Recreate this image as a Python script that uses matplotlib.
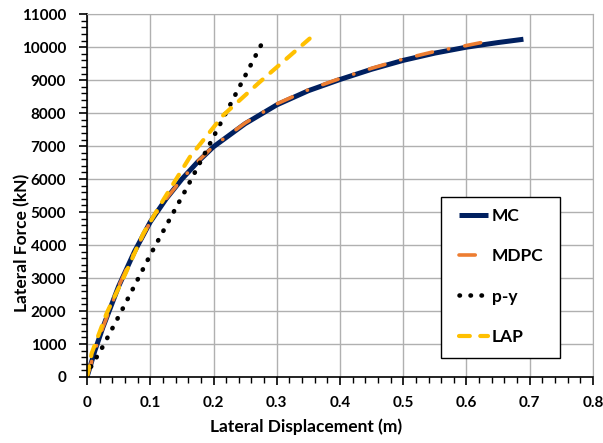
import matplotlib.pyplot as plt
from matplotlib.patches import Rectangle
from matplotlib.ticker import MultipleLocator, FuncFormatter

plt.rcParams['font.family'] = ['Lato', 'DejaVu Sans']
plt.rcParams['font.weight'] = 'bold'

# MC
mc_x = [0, 0.0125, 0.025, 0.05, 0.075, 0.1, 0.125, 0.15, 0.175, 0.2, 0.25, 0.3,
        0.35, 0.4, 0.45, 0.5, 0.55, 0.6, 0.65, 0.69]
mc_y = [0, 800, 1500, 2750, 3800, 4700, 5400, 6000, 6520, 6980, 7680, 8250,
        8680, 9020, 9330, 9600, 9820, 10000, 10140, 10240]

# MDPC
mdpc_x = [0, 0.0125, 0.025, 0.05, 0.075, 0.1, 0.125, 0.15, 0.175, 0.2, 0.25, 0.3,
          0.35, 0.4, 0.45, 0.5, 0.55, 0.6, 0.626]
mdpc_y = [0, 800, 1500, 2750, 3800, 4700, 5400, 6000, 6530, 7000, 7700, 8280,
          8710, 9050, 9360, 9640, 9870, 10050, 10150]

# p-y
py_x = [0, 0.0047, 0.0226, 0.054, 0.1, 0.14, 0.1565, 0.2, 0.24, 0.28]
py_y = [0, 260, 840, 1980, 3700, 5110, 5690, 7280, 8760, 10240]

# LAP
lap_x = [0, 0.0074, 0.031, 0.06, 0.089, 0.12, 0.163, 0.2155, 0.2735, 0.352]
lap_y = [0, 720, 1930, 3100, 4350, 5350, 6680, 7940, 8950, 10260]

fig = plt.figure(figsize=(6.03, 4.43), dpi=100)
ax = fig.add_axes([0.1443, 0.149, 0.8391, 0.819])

ax.plot(mc_x, mc_y, color='#002060', lw=3.6, label='MC', solid_capstyle='butt')
ax.plot(mdpc_x, mdpc_y, color='#ED7D31', lw=2.6, label='MDPC',
        linestyle=(0, (4.5, 4.5, 0.1, 4.5)), dash_capstyle='round')
ax.plot(py_x, py_y, color='black', lw=3.3, label='p-y',
        linestyle=(0, (0.1, 2.3)), dash_capstyle='round')
ax.plot(lap_x, lap_y, color='#FFC000', lw=3, label='LAP',
        linestyle=(0, (2.6, 2.5)), dash_capstyle='round')

ax.set_xlim(0, 0.8)
ax.set_ylim(0, 11000)
ax.xaxis.set_major_locator(MultipleLocator(0.1))
ax.xaxis.set_minor_locator(MultipleLocator(0.02))
ax.yaxis.set_major_locator(MultipleLocator(1000))
ax.yaxis.set_minor_locator(MultipleLocator(200))
ax.xaxis.set_major_formatter(FuncFormatter(lambda v, p: '%g' % round(v, 2)))

ax.grid(True, which='major', color='#B0B0B0', lw=1)
ax.set_axisbelow(True)
for s in ['top', 'right']:
    ax.spines[s].set_color('#B0B0B0')
for s in ['left', 'bottom']:
    ax.spines[s].set_color('black')
    ax.spines[s].set_linewidth(1.2)

ax.tick_params(which='major', direction='out', length=6, width=1.2, labelsize=11)
ax.tick_params(axis='y', which='major', pad=9)
ax.tick_params(axis='x', which='major', pad=8)
ax.tick_params(which='minor', direction='out', length=4, width=1)
for lab in ax.get_xticklabels() + ax.get_yticklabels():
    lab.set_fontweight('bold')

ax.set_xlabel('Lateral Displacement (m)', fontsize=12.5, fontweight='bold')
ax.set_ylabel('Lateral Force (kN)', fontsize=12.5, fontweight='bold')
ax.xaxis.set_label_coords(0.433, -0.113)
ax.yaxis.set_label_coords(-0.113, 0.369)

# legend box drawn as a patch, entries placed inside it
ax.add_patch(Rectangle((0.70, 0.052), 0.235, 0.444, transform=ax.transAxes,
                       facecolor='white', edgecolor='black', lw=1, zorder=4))
leg = ax.legend(loc='upper left', bbox_to_anchor=(0.735, 0.466),
                frameon=False, prop={'weight': 'bold', 'size': 12.5},
                labelspacing=1.4, handlelength=1.7, handletextpad=0.2,
                borderaxespad=0, borderpad=0)
leg.set_zorder(5)

fig.savefig('out.png', dpi=100)
